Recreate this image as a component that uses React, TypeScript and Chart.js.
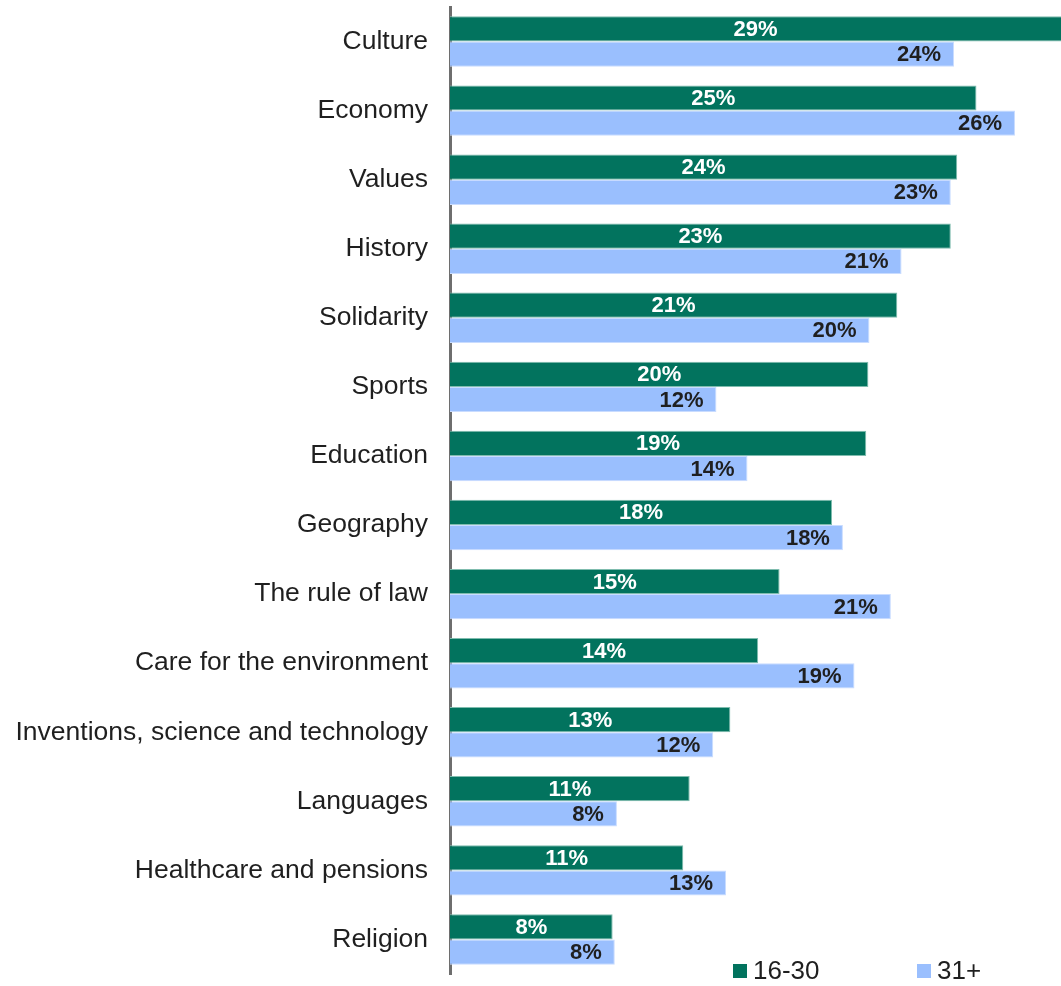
import React, { useEffect, useRef } from "react";
import { Chart, registerables } from "chart.js";

Chart.register(...registerables);

const categories = [
  "Culture",
  "Economy",
  "Values",
  "History",
  "Solidarity",
  "Sports",
  "Education",
  "Geography",
  "The rule of law",
  "Care for the environment",
  "Inventions, science and technology",
  "Languages",
  "Healthcare and pensions",
  "Religion",
];

const seriesNames = ["16-30", "31+"];

const values1630 = [29.0, 24.6, 23.7, 23.4, 20.9, 19.55, 19.45, 17.85, 15.4, 14.4, 13.1, 11.2, 10.9, 7.6];
const values31 = [23.55, 26.4, 23.4, 21.1, 19.6, 12.45, 13.9, 18.36, 20.6, 18.9, 12.3, 7.8, 12.9, 7.7];

const GREEN = "#02735E";
const GREEN_BORDER = "#7fbcae";
const BLUE = "#9ABFFE";
const BLUE_BORDER = "#c9dcff";
const TEXT = "#1f1f1f";
const FONT = "'Liberation Sans', Arial, sans-serif";

const labelPlugin = {
  id: "barLabels",
  afterDatasetsDraw(chart: any) {
    const ctx = chart.ctx;
    const area = chart.chartArea;
    ctx.save();
    ctx.font = `bold 22px ${FONT}`;
    ctx.textBaseline = "middle";
    chart.data.datasets.forEach((ds: any, di: number) => {
      const meta = chart.getDatasetMeta(di);
      meta.data.forEach((el: any, i: number) => {
        const v = ds.data[i];
        const txt = Math.round(v) + "%";
        const end = Math.min(el.x, area.right);
        if (di === 0) {
          ctx.fillStyle = "#ffffff";
          ctx.textAlign = "center";
          ctx.fillText(txt, (el.base + end) / 2, el.y + 1);
        } else {
          ctx.fillStyle = TEXT;
          ctx.textAlign = "right";
          ctx.fillText(txt, end - 13, el.y + 1);
        }
      });
    });
    ctx.restore();
  },
};

const legendPlugin = {
  id: "customLegend",
  afterDraw(chart: any) {
    const ctx = chart.ctx;
    ctx.save();
    ctx.font = `26px ${FONT}`;
    ctx.textBaseline = "middle";
    ctx.textAlign = "left";
    const items = [
      { x: 733, color: GREEN, label: seriesNames[0] },
      { x: 917, color: BLUE, label: seriesNames[1] },
    ];
    const y = 971;
    items.forEach((it) => {
      ctx.fillStyle = it.color;
      ctx.fillRect(it.x, y - 7, 14, 14);
      ctx.fillStyle = TEXT;
      ctx.fillText(it.label, it.x + 20, y + 1);
    });
    ctx.restore();
  },
};

export default function App() {
  const ref = useRef<HTMLCanvasElement>(null);
  useEffect(() => {
    if (!ref.current) return;
    const chart = new Chart(ref.current, {
      type: "bar",
      data: {
        labels: categories,
        datasets: [
          {
            label: seriesNames[0],
            data: values1630,
            backgroundColor: GREEN,
            borderColor: GREEN_BORDER,
            borderWidth: 1,
            categoryPercentage: 0.73,
            barPercentage: 1.0,
          },
          {
            label: seriesNames[1],
            data: values31,
            backgroundColor: BLUE,
            borderColor: BLUE_BORDER,
            borderWidth: 1,
            categoryPercentage: 0.73,
            barPercentage: 1.0,
          },
        ],
      },
      options: {
        indexAxis: "y",
        responsive: false,
        animation: false,
        layout: { padding: { top: 7, bottom: 12, left: 0, right: 0 } },
        plugins: {
          legend: { display: false },
          tooltip: { enabled: false },
        },
        scales: {
          x: {
            display: false,
            min: 0,
            max: 28.55,
          },
          y: {
            grid: { display: false, drawTicks: false },
            border: { display: true, color: "#6e6e6e", width: 3 },
            ticks: {
              color: TEXT,
              font: { family: FONT, size: 26.5 },
              padding: 22,
            },
            afterFit(scale: any) {
              scale.width = 450;
              scale.paddingTop = 0;
              scale.paddingBottom = 0;
            },
          },
        },
      },
      plugins: [labelPlugin, legendPlugin],
    });
    return () => chart.destroy();
  }, []);
  return (
    <div style={{ position: "fixed", left: 0, top: 0, width: 1061, height: 986, background: "#fff" }}>
      <canvas ref={ref} width={1061} height={986} />
    </div>
  );
}
